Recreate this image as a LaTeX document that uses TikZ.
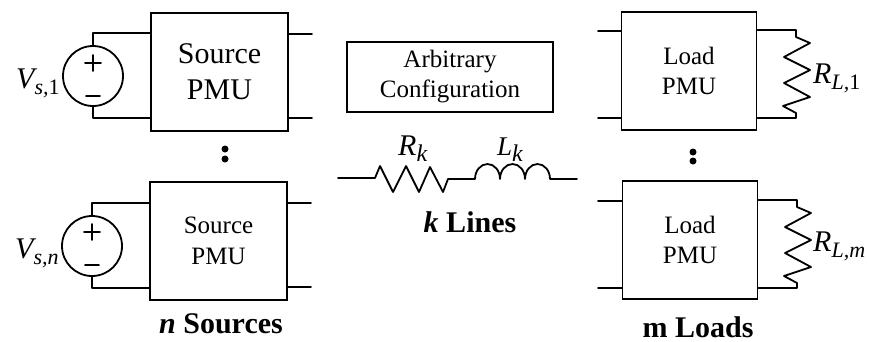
\documentclass[tikz,border=0pt]{standalone}
\usepackage{fontspec}
\setmainfont{Liberation Serif}
\newcommand{\sizedtext}[2]{\fontsize{#1}{#2}\selectfont}
\newcommand{\lowsub}[1]{\raisebox{-6pt}{\sizedtext{22}{26}\itshape #1}}
\tikzset{
  wire/.style={line width=1.8pt,line cap=round,line join=round},
  pmubig/.style={draw,line width=1.8pt,minimum width=137pt,minimum height=118pt,inner sep=0pt,align=center,font=\sizedtext{30}{36}},
  pmusmall/.style={pmubig,minimum width=135pt,font=\sizedtext{25}{30.5}},
  cfgbox/.style={draw,line width=1.8pt,minimum width=206pt,minimum height=70pt,inner sep=0pt,align=center,font=\sizedtext{25}{30}},
  vsrc/.style={draw,circle,line width=1.8pt,minimum size=60pt,inner sep=0pt},
  dotmark/.style={circle,fill=black,minimum size=7pt,inner sep=0pt},
  sym/.style={anchor=base west,inner sep=0pt,font=\sizedtext{30}{34}\itshape},
  caption/.style={anchor=base,inner sep=0pt,font=\sizedtext{30}{36}\bfseries},
}
\begin{document}
\begin{tikzpicture}[x=1pt,y=-1pt]
\useasboundingbox (0,0) rectangle (870,341);
% Blocks
\node[pmubig] (s1) at (219.5,72) {Source\\PMU};
\node[pmusmall,minimum width=137pt] (s2) at (218.5,241) {Source\\PMU};
\node[pmusmall] (l1) at (689,71) {Load\\PMU};
\node[pmusmall] (l2) at (690,240) {Load\\PMU};
\node[cfgbox] (cfg) at (450,77) {Arbitrary\\Configuration};
% Sources
\node[vsrc] (v1) at (93,76) {};
\node[vsrc] (v2) at (92,246) {};
\draw[wire] (v1.north) |- (s1.west |- 0,33);
\draw[wire] (v1.south) |- (s1.west |- 0,118);
\draw[wire] (v2.north) |- (s2.west |- 0,203);
\draw[wire] (v2.south) |- (s2.west |- 0,288);
\draw[wire] (85,63) -- (101,63) (93,55) -- (93,71) (86,96) -- (100,96);
\draw[wire] (84,232) -- (100,232) (92,224) -- (92,240) (85,265) -- (99,265);
\node[sym] (lv1) at (16,88) {V\lowsub{s,\textup{1}}};
\node[sym] (lv2) at (15,258) {V\lowsub{s,n}};
% Source output stubs
\coordinate (so1) at (312,34);
\coordinate (so2) at (312,118);
\coordinate (so3) at (311,203);
\coordinate (so4) at (311,287);
\draw[wire] (s1.east |- so1) -- (so1);
\draw[wire] (s1.east |- so2) -- (so2);
\draw[wire] (s2.east |- so3) -- (so3);
\draw[wire] (s2.east |- so4) -- (so4);
% Load input stubs
\coordinate (li1) at (598,31);
\coordinate (li2) at (598,118);
\coordinate (li3) at (598,201);
\coordinate (li4) at (598,288);
\draw[wire] (li1) -- (l1.west |- li1);
\draw[wire] (li2) -- (l1.west |- li2);
\draw[wire] (li3) -- (l2.west |- li3);
\draw[wire] (li4) -- (l2.west |- li4);
% Load resistors
\draw[wire] (l1.east |- 0,30) -- (796,30) -- (796,37) -- (810,43) -- (784,57) -- (810,70) -- (784,83) -- (810,97) -- (783,106) -- (796,113) -- (796,118) -- (l1.east |- 0,118);
\draw[wire] (l2.east |- 0,200) -- (797,200) -- (797,207) -- (811,213) -- (785,227) -- (811,240) -- (785,253) -- (811,267) -- (784,276) -- (797,283) -- (797,288) -- (l2.east |- 0,288);
\node[sym] (lr1) at (813,83) {R\lowsub{L,\textup{1}}};
\node[sym] (lr2) at (813,251) {R\lowsub{L,m}};
% Dots
\node[dotmark] (d1) at (225,149) {};
\node[dotmark] (d2) at (225,159) {};
\node[dotmark] (d3) at (693,152) {};
\node[dotmark] (d4) at (693,161) {};
% Line element
\coordinate (la) at (338,178);
\coordinate (lb) at (475,179);
\coordinate (ld) at (577,179);
\draw[wire] (la) -- (375,178) -- (380,166) -- (393,192) -- (406,166) -- (419,192) -- (430,167) -- (443,192) -- (448,179) -- (lb)
  arc[start angle=180,end angle=0,x radius=12.5pt,y radius=15pt]
  arc[start angle=180,end angle=0,x radius=12.5pt,y radius=15pt]
  arc[start angle=180,end angle=0,x radius=12.5pt,y radius=15pt] -- (ld);
\node[sym] (lr) at (398,155) {R\lowsub{\sizedtext{24}{28}k}};
\node[sym,font=\sizedtext{27}{31}\itshape] (ll) at (497,155) {L\lowsub{\sizedtext{24}{28}k}};
% Captions
\node[caption] (c1) at (221,333) {\textit{n} Sources};
\node[caption] (c2) at (470,232) {\textit{k} Lines};
\node[caption] (c3) at (698,337) {m Loads};
\end{tikzpicture}
\end{document}
